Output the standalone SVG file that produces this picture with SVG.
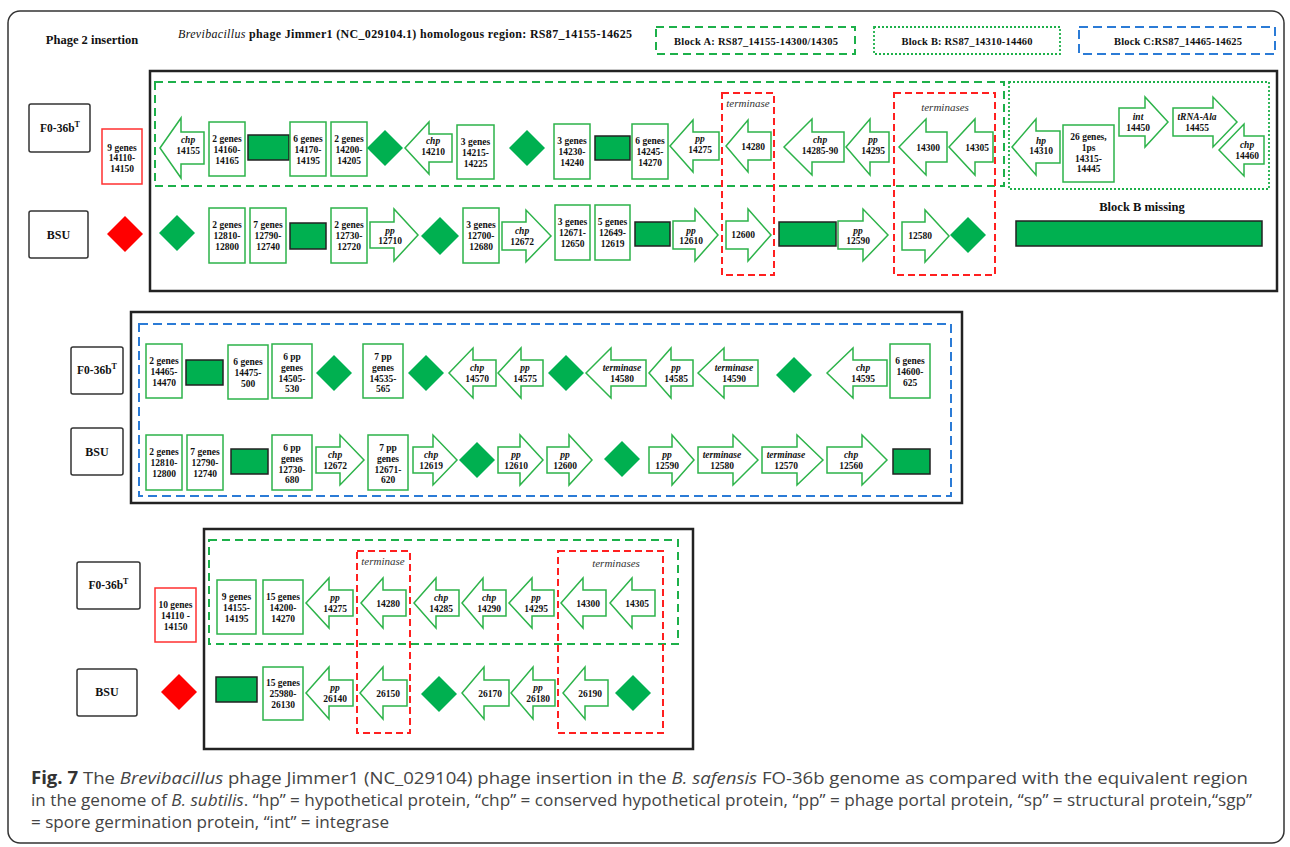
<svg xmlns="http://www.w3.org/2000/svg" width="1290" height="847" viewBox="0 0 1290 847">
  <style>
    .frame { fill: none; stroke: #333; stroke-width: 1.5; }
    .panel { fill: none; stroke: #222; stroke-width: 2.5; }
    .lbl { fill: #fff; stroke: #333; stroke-width: 1.5; }
    .gene { fill: #fff; stroke: #2DB34A; stroke-width: 1.5; }
    .redbox { fill: #fff; stroke: #FF3030; stroke-width: 1.5; }
    .fill { fill: #00B050; }
    .blk { fill: #00B050; stroke: #222; stroke-width: 1.5; }
    .red { fill: #FF0000; }
    .dashA { fill: none; stroke: #1DB04A; stroke-width: 2; stroke-dasharray: 8 5; }
    .dotB { fill: none; stroke: #1DB04A; stroke-width: 1.8; stroke-dasharray: 2 2; }
    .dashC { fill: none; stroke: #2B7BD6; stroke-width: 2; stroke-dasharray: 9 5; }
    .dashR { fill: none; stroke: #FF2020; stroke-width: 2; stroke-dasharray: 7 4; }
    text { font-family: "Liberation Serif", "Times New Roman", serif; fill: #111; }
    .t { font-size: 9.5px; font-weight: bold; text-anchor: middle; }
    .it { font-style: italic; }
    .hd { font-size: 12.5px; font-weight: bold; text-anchor: middle; }
    .blkt { font-size: 10.5px; font-weight: bold; text-anchor: middle; }
    .term { font-size: 11px; font-style: italic; text-anchor: middle; fill: #333; }
    .cap { font-family: "Open Sans", "Liberation Sans", sans-serif; font-size: 17px; fill: #444; }
  </style>

  <!-- outer figure frame -->
  <rect class="frame" x="8" y="11" width="1276" height="832" rx="12"/>

  <!-- header -->
  <text class="hd" x="92" y="44">Phage 2 insertion</text>
  <text x="178" y="38" font-size="12" font-weight="bold" textLength="454" lengthAdjust="spacing"><tspan font-style="italic" font-weight="normal">Brevibacillus</tspan> phage Jimmer1 (NC_029104.1) homologous region: RS87_14155-14625</text>

  <g id="legend-block-a">
    <rect class="dashA" x="656" y="27" width="199" height="27"/>
    <text class="blkt" x="756" y="45" textLength="164" lengthAdjust="spacing">Block A: RS87_14155-14300/14305</text>
  </g>
  <g id="legend-block-b">
    <rect class="dotB" x="874" y="27" width="186" height="27"/>
    <text class="blkt" x="967" y="45" textLength="131" lengthAdjust="spacing">Block B: RS87_14310-14460</text>
  </g>
  <g id="legend-block-c">
    <rect class="dashC" x="1079" y="27" width="196" height="27"/>
    <text class="blkt" x="1178" y="45" textLength="128" lengthAdjust="spacing">Block C:RS87_14465-14625</text>
  </g>

  <!-- ===================== Panel 1 ===================== -->
  <g id="panel1">
    <rect class="panel" x="150" y="71" width="1127" height="220"/>
    <rect class="dashA" x="155" y="82" width="849" height="104"/>
    <rect class="dotB" x="1009" y="82" width="260" height="107"/>
  </g>

  <g id="p1-f0">
    <rect class="lbl" x="29" y="104" width="61" height="48" rx="2"/>
    <text x="60" y="132" font-size="11.5" font-weight="bold" text-anchor="middle">F0-36b<tspan dy="-5" font-size="8">T</tspan></text>
  </g>
  <g id="p1-bsu">
    <rect class="lbl" x="29" y="211" width="59" height="47" rx="2"/>
    <text x="58.5" y="239" font-size="12" font-weight="bold" text-anchor="middle">BSU</text>
  </g>
  <g id="p1-9genes">
    <rect class="redbox" x="102" y="129" width="40" height="55"/>
    <text class="t" x="122" y="150.5">9  genes</text>
    <text class="t" x="122" y="161">14110-</text>
    <text class="t" x="122" y="172">14150</text>
  </g>

  <!-- Panel 1, F0-36bT row -->
  <g id="p1a-chp14155">
    <path class="gene" d="M160 148 L181 118 V132 H204 V164 H181 V178 Z"/>
    <text class="t it" x="188" y="143">chp</text>
    <text class="t" x="188" y="154">14155</text>
  </g>
  <g id="p1a-14160">
    <rect class="gene" x="209" y="122" width="36" height="54"/>
    <text class="t" x="227" y="141.5">2 genes</text>
    <text class="t" x="227" y="152.5">14160-</text>
    <text class="t" x="227" y="163.5">14165</text>
  </g>
  <rect id="p1a-block1" class="blk" x="248" y="135" width="41" height="25"/>
  <g id="p1a-14170">
    <rect class="gene" x="290" y="122" width="36" height="54"/>
    <text class="t" x="308" y="141.5">6 genes</text>
    <text class="t" x="308" y="152.5">14170-</text>
    <text class="t" x="308" y="163.5">14195</text>
  </g>
  <g id="p1a-14200">
    <rect class="gene" x="331" y="122" width="36" height="54"/>
    <text class="t" x="349" y="141.5">2 genes</text>
    <text class="t" x="349" y="152.5">14200-</text>
    <text class="t" x="349" y="163.5">14205</text>
  </g>
  <polygon id="p1a-dia1" class="fill" points="385,130 403,148 385,166 367,148"/>
  <g id="p1a-chp14210">
    <path class="gene" d="M405 148 L429 122 V134 H452 V162 H429 V174 Z"/>
    <text class="t it" x="433" y="144">chp</text>
    <text class="t" x="433" y="155">14210</text>
  </g>
  <g id="p1a-14215">
    <rect class="gene" x="457" y="125" width="37" height="54"/>
    <text class="t" x="475.5" y="144.5">3 genes</text>
    <text class="t" x="475.5" y="155.5">14215-</text>
    <text class="t" x="475.5" y="166.5">14225</text>
  </g>
  <polygon id="p1a-dia2" class="fill" points="527,130 545,148 527,166 509,148"/>
  <g id="p1a-14230">
    <rect class="gene" x="554" y="124" width="36" height="55"/>
    <text class="t" x="572" y="144">3 genes</text>
    <text class="t" x="572" y="155">14230-</text>
    <text class="t" x="572" y="166">14240</text>
  </g>
  <rect id="p1a-block2" class="blk" x="595" y="136" width="35" height="24"/>
  <g id="p1a-14245">
    <rect class="gene" x="632" y="124" width="36" height="55"/>
    <text class="t" x="650" y="144">6 genes</text>
    <text class="t" x="650" y="155">14245-</text>
    <text class="t" x="650" y="166">14270</text>
  </g>
  <g id="p1a-pp14275">
    <path class="gene" d="M670 146 L693 120 V132 H719 V160 H693 V172 Z"/>
    <text class="t it" x="700" y="142">pp</text>
    <text class="t" x="700" y="153">14275</text>
  </g>
  <g id="p1a-14280">
    <path class="gene" d="M726 146 L748 120 V132 H771 V160 H748 V172 Z"/>
    <text class="t" x="753" y="149.5">14280</text>
  </g>
  <g id="p1a-chp14285">
    <path class="gene" d="M784 147 L812 119 V132 H844 V162 H812 V175 Z"/>
    <text class="t it" x="820" y="142.5">chp</text>
    <text class="t" x="820" y="153.5">14285-90</text>
  </g>
  <g id="p1a-pp14295">
    <path class="gene" d="M846 147 L870 119 V132 H889 V162 H870 V175 Z"/>
    <text class="t it" x="873" y="142.5">pp</text>
    <text class="t" x="873" y="153.5">14295</text>
  </g>
  <g id="p1a-14300">
    <path class="gene" d="M899 147 L926 119 V132 H947 V162 H926 V175 Z"/>
    <text class="t" x="928" y="150.5">14300</text>
  </g>
  <g id="p1a-14305">
    <path class="gene" d="M949 147 L975 119 V132 H993 V162 H975 V175 Z"/>
    <text class="t" x="977" y="150.5">14305</text>
  </g>
  <!-- Block B genes -->
  <g id="p1a-hp14310">
    <path class="gene" d="M1012 147 L1036 119 V131 H1060 V163 H1036 V175 Z"/>
    <text class="t it" x="1041" y="143.5">hp</text>
    <text class="t" x="1041" y="154">14310</text>
  </g>
  <g id="p1a-26genes">
    <rect class="gene" x="1063" y="125" width="51" height="57"/>
    <text class="t" x="1088.5" y="140">26 genes,</text>
    <text class="t" x="1088.5" y="150.5">1ps</text>
    <text class="t" x="1088.5" y="161.5">14315-</text>
    <text class="t" x="1088.5" y="172">14445</text>
  </g>
  <g id="p1a-int14450">
    <path class="gene" d="M1168 122 L1145 97 V108 H1119 V136 H1145 V147 Z"/>
    <text class="t it" x="1138" y="120">int</text>
    <text class="t" x="1138" y="131">14450</text>
  </g>
  <g id="p1a-trna14455">
    <path class="gene" d="M1237 122 L1213 97 V108 H1173 V136 H1213 V147 Z"/>
    <text class="t it" x="1197" y="120">tRNA-Ala</text>
    <text class="t" x="1197" y="131">14455</text>
  </g>
  <g id="p1a-chp14460">
    <path class="gene" d="M1219 150 L1244 124 V136 H1264 V164 H1244 V176 Z"/>
    <text class="t it" x="1247" y="148">chp</text>
    <text class="t" x="1247" y="159">14460</text>
  </g>

  <!-- Panel 1, BSU row -->
  <polygon id="p1b-red" class="red" points="125,216 143,234 125,252 107,234"/>
  <polygon id="p1b-dia1" class="fill" points="177,215 195,233 177,251 159,233"/>
  <g id="p1b-12810">
    <rect class="gene" x="209" y="208" width="36" height="55"/>
    <text class="t" x="227" y="228">2 genes</text>
    <text class="t" x="227" y="239">12810-</text>
    <text class="t" x="227" y="250">12800</text>
  </g>
  <g id="p1b-12790">
    <rect class="gene" x="250" y="208" width="36" height="55"/>
    <text class="t" x="268" y="228">7 genes</text>
    <text class="t" x="268" y="239">12790-</text>
    <text class="t" x="268" y="250">12740</text>
  </g>
  <rect id="p1b-block1" class="blk" x="290" y="223" width="36" height="26"/>
  <g id="p1b-12730">
    <rect class="gene" x="331" y="208" width="36" height="55"/>
    <text class="t" x="349" y="228">2 genes</text>
    <text class="t" x="349" y="239">12730-</text>
    <text class="t" x="349" y="250">12720</text>
  </g>
  <g id="p1b-pp12710">
    <path class="gene" d="M418 235 L394 209 V222 H370 V248 H394 V261 Z"/>
    <text class="t it" x="390" y="234">pp</text>
    <text class="t" x="390" y="244">12710</text>
  </g>
  <polygon id="p1b-dia2" class="fill" points="440,217 459,236 440,255 421,236"/>
  <g id="p1b-12700">
    <rect class="gene" x="463" y="208" width="36" height="55"/>
    <text class="t" x="481" y="228">3 genes</text>
    <text class="t" x="481" y="239">12700-</text>
    <text class="t" x="481" y="250">12680</text>
  </g>
  <g id="p1b-chp12672">
    <path class="gene" d="M551 236 L526 210 V222 H502 V250 H526 V262 Z"/>
    <text class="t it" x="522" y="234">chp</text>
    <text class="t" x="522" y="245">12672</text>
  </g>
  <g id="p1b-12671">
    <rect class="gene" x="555" y="205" width="35" height="55"/>
    <text class="t" x="572.5" y="225">3 genes</text>
    <text class="t" x="572.5" y="236">12671-</text>
    <text class="t" x="572.5" y="247">12650</text>
  </g>
  <g id="p1b-12649">
    <rect class="gene" x="595" y="205" width="35" height="55"/>
    <text class="t" x="612.5" y="225">5 genes</text>
    <text class="t" x="612.5" y="236">12649-</text>
    <text class="t" x="612.5" y="247">12619</text>
  </g>
  <rect id="p1b-block2" class="blk" x="635" y="222" width="35" height="24"/>
  <g id="p1b-pp12610">
    <path class="gene" d="M718 235 L695 209 V221 H673 V249 H695 V261 Z"/>
    <text class="t it" x="691" y="234">pp</text>
    <text class="t" x="691" y="244">12610</text>
  </g>
  <g id="p1b-12600">
    <path class="gene" d="M771 235 L748 209 V221 H726 V249 H748 V261 Z"/>
    <text class="t" x="743" y="238">12600</text>
  </g>
  <rect id="p1b-block3" class="blk" x="779" y="222" width="57" height="24"/>
  <g id="p1b-pp12590">
    <path class="gene" d="M888 235 L863 209 V221 H838 V249 H863 V261 Z"/>
    <text class="t it" x="858" y="234">pp</text>
    <text class="t" x="858" y="244">12590</text>
  </g>
  <g id="p1b-12580">
    <path class="gene" d="M949 236 L925 210 V222 H902 V250 H925 V262 Z"/>
    <text class="t" x="920" y="239">12580</text>
  </g>
  <polygon id="p1b-dia3" class="fill" points="968,217 986,235 968,253 950,235"/>
  <g id="p1b-blockB-missing">
    <text x="1142" y="211" font-size="12.5" font-weight="bold" text-anchor="middle">Block B missing</text>
    <rect class="blk" x="1016" y="221" width="246" height="25"/>
  </g>

  <!-- terminase highlight boxes, panel 1 -->
  <g id="p1-terminase">
    <rect class="dashR" x="722" y="93" width="52" height="182"/>
    <text class="term" x="748" y="107">terminase</text>
  </g>
  <g id="p1-terminases">
    <rect class="dashR" x="894" y="93" width="101" height="182"/>
    <text class="term" x="945" y="111">terminases</text>
  </g>

  <!-- ===================== Panel 2 ===================== -->
  <g id="panel2">
    <rect class="panel" x="131" y="312" width="831" height="191"/>
    <rect class="dashC" x="139" y="324" width="812" height="172"/>
  </g>
  <g id="p2-f0">
    <rect class="lbl" x="71" y="347" width="52" height="47" rx="2"/>
    <text x="97" y="374" font-size="11.5" font-weight="bold" text-anchor="middle">F0-36b<tspan dy="-5" font-size="8">T</tspan></text>
  </g>
  <g id="p2-bsu">
    <rect class="lbl" x="71" y="428" width="52" height="47" rx="2"/>
    <text x="97" y="456" font-size="12" font-weight="bold" text-anchor="middle">BSU</text>
  </g>

  <!-- Panel 2, F0-36bT row -->
  <g id="p2a-14465">
    <rect class="gene" x="146" y="344" width="36" height="54"/>
    <text class="t" x="164" y="363.5">2 genes</text>
    <text class="t" x="164" y="374.5">14465-</text>
    <text class="t" x="164" y="385.5">14470</text>
  </g>
  <rect id="p2a-block1" class="blk" x="186" y="360" width="37" height="25"/>
  <g id="p2a-14475">
    <rect class="gene" x="228" y="345" width="40" height="54"/>
    <text class="t" x="248" y="364.5">6 genes</text>
    <text class="t" x="248" y="375.5">14475-</text>
    <text class="t" x="248" y="386.5">500</text>
  </g>
  <g id="p2a-14505">
    <rect class="gene" x="272" y="344" width="40" height="54"/>
    <text class="t" x="292" y="359.5">6 pp</text>
    <text class="t" x="292" y="370.5">genes</text>
    <text class="t" x="292" y="381.5">14505-</text>
    <text class="t" x="292" y="392">530</text>
  </g>
  <polygon id="p2a-dia1" class="fill" points="334,355 352,373 334,391 316,373"/>
  <g id="p2a-14535">
    <rect class="gene" x="363" y="344" width="40" height="54"/>
    <text class="t" x="383" y="359.5">7 pp</text>
    <text class="t" x="383" y="370.5">genes</text>
    <text class="t" x="383" y="381.5">14535-</text>
    <text class="t" x="383" y="392">565</text>
  </g>
  <polygon id="p2a-dia2" class="fill" points="426,355 444,373 426,391 408,373"/>
  <g id="p2a-chp14570">
    <path class="gene" d="M449 373 L473 348 V360 H496 V386 H473 V398 Z"/>
    <text class="t it" x="477" y="371">chp</text>
    <text class="t" x="477" y="382">14570</text>
  </g>
  <g id="p2a-pp14575">
    <path class="gene" d="M498 373 L521 348 V360 H543 V386 H521 V398 Z"/>
    <text class="t it" x="525" y="371">pp</text>
    <text class="t" x="525" y="382">14575</text>
  </g>
  <polygon id="p2a-dia3" class="fill" points="566,355 584,373 566,391 548,373"/>
  <g id="p2a-term14580">
    <path class="gene" d="M586 373 L611 348 V360 H646 V386 H611 V398 Z"/>
    <text class="t it" x="622" y="371">terminase</text>
    <text class="t" x="622" y="382">14580</text>
  </g>
  <g id="p2a-pp14585">
    <path class="gene" d="M649 373 L671 348 V360 H693 V386 H671 V398 Z"/>
    <text class="t it" x="676" y="371">pp</text>
    <text class="t" x="676" y="382">14585</text>
  </g>
  <g id="p2a-term14590">
    <path class="gene" d="M698 373 L724 348 V360 H758 V386 H724 V398 Z"/>
    <text class="t it" x="734" y="371">terminase</text>
    <text class="t" x="734" y="382">14590</text>
  </g>
  <polygon id="p2a-dia4" class="fill" points="794,357 812,375 794,393 776,375"/>
  <g id="p2a-chp14595">
    <path class="gene" d="M827 373 L853 348 V360 H887 V386 H853 V398 Z"/>
    <text class="t it" x="863" y="371">chp</text>
    <text class="t" x="863" y="382">14595</text>
  </g>
  <g id="p2a-14600">
    <rect class="gene" x="890" y="344" width="40" height="54"/>
    <text class="t" x="910" y="363.5">6 genes</text>
    <text class="t" x="910" y="374.5">14600-</text>
    <text class="t" x="910" y="385.5">625</text>
  </g>

  <!-- Panel 2, BSU row -->
  <g id="p2b-12810">
    <rect class="gene" x="146" y="435" width="36" height="55"/>
    <text class="t" x="164" y="455">2 genes</text>
    <text class="t" x="164" y="466">12810-</text>
    <text class="t" x="164" y="477">12800</text>
  </g>
  <g id="p2b-12790">
    <rect class="gene" x="187" y="435" width="36" height="55"/>
    <text class="t" x="205" y="455">7 genes</text>
    <text class="t" x="205" y="466">12790-</text>
    <text class="t" x="205" y="477">12740</text>
  </g>
  <rect id="p2b-block1" class="blk" x="231" y="449" width="37" height="25"/>
  <g id="p2b-12730">
    <rect class="gene" x="272" y="435" width="40" height="55"/>
    <text class="t" x="292" y="450.5">6 pp</text>
    <text class="t" x="292" y="461.5">genes</text>
    <text class="t" x="292" y="472.5">12730-</text>
    <text class="t" x="292" y="483">680</text>
  </g>
  <g id="p2b-chp12672">
    <path class="gene" d="M364 460 L340 435 V447 H316 V473 H340 V485 Z"/>
    <text class="t it" x="335" y="458">chp</text>
    <text class="t" x="335" y="469">12672</text>
  </g>
  <g id="p2b-12671">
    <rect class="gene" x="368" y="435" width="40" height="55"/>
    <text class="t" x="388" y="450.5">7 pp</text>
    <text class="t" x="388" y="461.5">genes</text>
    <text class="t" x="388" y="472.5">12671-</text>
    <text class="t" x="388" y="483">620</text>
  </g>
  <g id="p2b-chp12619">
    <path class="gene" d="M457 460 L433 435 V447 H413 V473 H433 V485 Z"/>
    <text class="t it" x="431" y="458">chp</text>
    <text class="t" x="431" y="469">12619</text>
  </g>
  <polygon id="p2b-dia1" class="fill" points="477,442 495,460 477,478 459,460"/>
  <g id="p2b-pp12610">
    <path class="gene" d="M543 460 L520 435 V447 H498 V473 H520 V485 Z"/>
    <text class="t it" x="516" y="458">pp</text>
    <text class="t" x="516" y="469">12610</text>
  </g>
  <g id="p2b-pp12600">
    <path class="gene" d="M592 460 L569 435 V447 H547 V473 H569 V485 Z"/>
    <text class="t it" x="565" y="458">pp</text>
    <text class="t" x="565" y="469">12600</text>
  </g>
  <polygon id="p2b-dia2" class="fill" points="622,441 640,459 622,477 604,459"/>
  <g id="p2b-pp12590">
    <path class="gene" d="M694 460 L672 435 V447 H649 V473 H672 V485 Z"/>
    <text class="t it" x="667" y="458">pp</text>
    <text class="t" x="667" y="469">12590</text>
  </g>
  <g id="p2b-term12580">
    <path class="gene" d="M758 460 L733 435 V447 H698 V473 H733 V485 Z"/>
    <text class="t it" x="722" y="458">terminase</text>
    <text class="t" x="722" y="469">12580</text>
  </g>
  <g id="p2b-term12570">
    <path class="gene" d="M823 460 L797 435 V447 H762 V473 H797 V485 Z"/>
    <text class="t it" x="786" y="458">terminase</text>
    <text class="t" x="786" y="469">12570</text>
  </g>
  <g id="p2b-chp12560">
    <path class="gene" d="M887 460 L862 435 V447 H827 V473 H862 V485 Z"/>
    <text class="t it" x="851" y="458">chp</text>
    <text class="t" x="851" y="469">12560</text>
  </g>
  <rect id="p2b-block2" class="blk" x="893" y="449" width="37" height="25"/>

  <!-- ===================== Panel 3 ===================== -->
  <g id="panel3">
    <rect class="panel" x="204" y="529" width="489" height="220"/>
    <rect class="dashA" x="209" y="540" width="469" height="104"/>
  </g>
  <g id="p3-f0">
    <rect class="lbl" x="77" y="562" width="63" height="47" rx="2"/>
    <text x="108.5" y="589" font-size="11.5" font-weight="bold" text-anchor="middle">F0-36b<tspan dy="-5" font-size="8">T</tspan></text>
  </g>
  <g id="p3-bsu">
    <rect class="lbl" x="77" y="669" width="60" height="47" rx="2"/>
    <text x="107" y="696" font-size="12" font-weight="bold" text-anchor="middle">BSU</text>
  </g>
  <g id="p3-10genes">
    <rect class="redbox" x="155" y="588" width="41" height="54"/>
    <text class="t" x="175.5" y="607.5">10 genes</text>
    <text class="t" x="175.5" y="618.5">14110 -</text>
    <text class="t" x="175.5" y="629.5">14150</text>
  </g>
  <polygon id="p3-red" class="red" points="179,674 197,692 179,710 161,692"/>

  <!-- Panel 3, F0-36bT row -->
  <g id="p3a-14155">
    <rect class="gene" x="217" y="580" width="39" height="54"/>
    <text class="t" x="236.5" y="599.5">9 genes</text>
    <text class="t" x="236.5" y="610.5">14155-</text>
    <text class="t" x="236.5" y="621.5">14195</text>
  </g>
  <g id="p3a-14200">
    <rect class="gene" x="263" y="580" width="40" height="54"/>
    <text class="t" x="283" y="599.5">15 genes</text>
    <text class="t" x="283" y="610.5">14200-</text>
    <text class="t" x="283" y="621.5">14270</text>
  </g>
  <g id="p3a-pp14275">
    <path class="gene" d="M306 603 L329 578 V590 H353 V616 H329 V628 Z"/>
    <text class="t it" x="335" y="601">pp</text>
    <text class="t" x="335" y="612">14275</text>
  </g>
  <g id="p3a-14280">
    <path class="gene" d="M361 603 L383 578 V590 H406 V616 H383 V628 Z"/>
    <text class="t" x="388" y="606.5">14280</text>
  </g>
  <g id="p3a-chp14285">
    <path class="gene" d="M414 603 L436 578 V590 H459 V616 H436 V628 Z"/>
    <text class="t it" x="441" y="601">chp</text>
    <text class="t" x="441" y="612">14285</text>
  </g>
  <g id="p3a-chp14290">
    <path class="gene" d="M462 603 L483 578 V590 H506 V616 H483 V628 Z"/>
    <text class="t it" x="489" y="601">chp</text>
    <text class="t" x="489" y="612">14290</text>
  </g>
  <g id="p3a-pp14295">
    <path class="gene" d="M509 603 L532 578 V590 H554 V616 H532 V628 Z"/>
    <text class="t it" x="536" y="601">pp</text>
    <text class="t" x="536" y="612">14295</text>
  </g>
  <g id="p3a-14300">
    <path class="gene" d="M561 603 L583 578 V590 H606 V616 H583 V628 Z"/>
    <text class="t" x="588" y="606.5">14300</text>
  </g>
  <g id="p3a-14305">
    <path class="gene" d="M610 603 L632 578 V590 H655 V616 H632 V628 Z"/>
    <text class="t" x="637" y="606.5">14305</text>
  </g>

  <!-- Panel 3, BSU row -->
  <rect id="p3b-block1" class="blk" x="216" y="677" width="41" height="25"/>
  <g id="p3b-25980">
    <rect class="gene" x="263" y="667" width="40" height="53"/>
    <text class="t" x="283" y="686">15 genes</text>
    <text class="t" x="283" y="697">25980-</text>
    <text class="t" x="283" y="708">26130</text>
  </g>
  <g id="p3b-pp26140">
    <path class="gene" d="M306 693 L329 667 V680 H353 V706 H329 V719 Z"/>
    <text class="t it" x="335" y="691">pp</text>
    <text class="t" x="335" y="702">26140</text>
  </g>
  <g id="p3b-26150">
    <path class="gene" d="M360 693 L383 667 V680 H407 V706 H383 V719 Z"/>
    <text class="t" x="388" y="696.5">26150</text>
  </g>
  <polygon id="p3b-dia1" class="fill" points="439,676 457,694 439,712 421,694"/>
  <g id="p3b-26170">
    <path class="gene" d="M462 693 L484 667 V680 H509 V706 H484 V719 Z"/>
    <text class="t" x="490" y="696.5">26170</text>
  </g>
  <g id="p3b-pp26180">
    <path class="gene" d="M511 693 L533 667 V680 H555 V706 H533 V719 Z"/>
    <text class="t it" x="538" y="691">pp</text>
    <text class="t" x="538" y="702">26180</text>
  </g>
  <g id="p3b-26190">
    <path class="gene" d="M563 693 L585 667 V680 H608 V706 H585 V719 Z"/>
    <text class="t" x="590" y="696.5">26190</text>
  </g>
  <polygon id="p3b-dia2" class="fill" points="633,675 651,693 633,711 615,693"/>

  <!-- terminase highlight boxes, panel 3 -->
  <g id="p3-terminase">
    <rect class="dashR" x="357" y="551" width="53" height="182"/>
    <text class="term" x="383" y="565">terminase</text>
  </g>
  <g id="p3-terminases">
    <rect class="dashR" x="558" y="551" width="105" height="182"/>
    <text class="term" x="616" y="567">terminases</text>
  </g>

  <!-- caption -->
  <g id="caption">
    <text class="cap" x="31" y="784" textLength="1217" lengthAdjust="spacingAndGlyphs"><tspan font-weight="bold" fill="#333">Fig. 7</tspan> The <tspan font-style="italic">Brevibacillus</tspan> phage Jimmer1 (NC_029104) phage insertion in the <tspan font-style="italic">B. safensis</tspan> FO-36b genome as compared with the equivalent region</text>
    <text class="cap" x="31" y="806" textLength="1221" lengthAdjust="spacingAndGlyphs">in the genome of <tspan font-style="italic">B. subtilis</tspan>. “hp” = hypothetical protein, “chp” = conserved hypothetical protein, “pp” = phage portal protein, “sp” = structural protein,“sgp”</text>
    <text class="cap" x="31" y="828" textLength="358" lengthAdjust="spacingAndGlyphs">= spore germination protein, “int” = integrase</text>
  </g>
</svg>
